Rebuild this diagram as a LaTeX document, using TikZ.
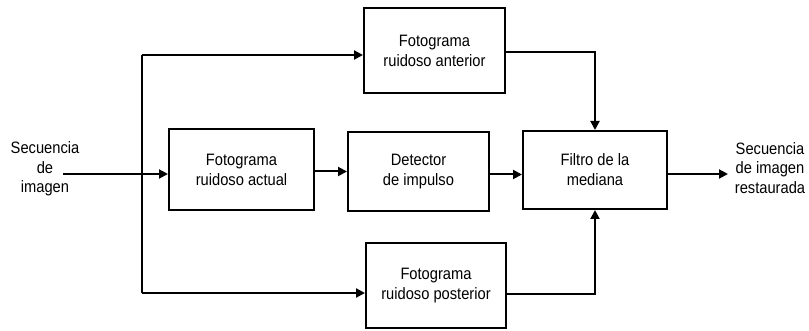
\documentclass[tikz,border=0pt]{standalone}
\usepackage{fontspec}
\setmainfont{Liberation Sans}[FakeStretch=0.89]
\usetikzlibrary{arrows.meta,calc}
\begin{document}
\begin{tikzpicture}[x=1pt,y=-1pt,
  blk/.style={draw,line width=2pt,minimum width=#1,inner sep=0pt,align=center,
    font=\fontsize{16.5}{20}\selectfont},
  lbl/.style={align=center,inner sep=0pt,font=\fontsize{16.5}{19.5}\selectfont},
  conn/.style={line width=2pt},
  arr/.style={conn,-{Triangle[length=9pt,width=9pt]}}]
\useasboundingbox (0,0) rectangle (809,331);
\node[lbl] (in) at (45,169) {Secuencia\\de\\imagen};
\node[lbl] (out) at (770,168) {Secuencia\\de imagen\\restaurada};
\node[blk=141pt,minimum height=85pt] (ant) at (434.5,50.5) {Fotograma\\ruidoso anterior};
\node[blk=145pt,minimum height=81pt] (act) at (241.5,169.5) {Fotograma\\ruidoso actual};
\node[blk=141pt,minimum height=79pt] (det) at (418.5,171.5) {Detector\\de impulso};
\node[blk=144pt,minimum height=78pt] (fil) at (595,170) {Filtro de la\\mediana};
\node[blk=140pt,minimum height=85pt] (pos) at (436,285.5) {Fotograma\\ruidoso posterior};
\coordinate (s) at (63,174);
\coordinate (bt) at (142,55);
\coordinate (bb) at (142,293);
\draw[arr] (s) -- (s -| act.west);
\draw[conn] (bt) -- (bb);
\draw[arr] (bt) -- (bt -| ant.west);
\draw[arr] (bb) -- (bb -| pos.west);
\draw[arr] ($(act.east)+(0,2)$) -- ($(act.east -| det.west)+(0,2)$);
\draw[arr] ($(det.east)+(0,3)$) -- ($(det.east -| fil.west)+(0,3)$);
\draw[arr] ($(ant.east)+(0,2)$) -| (fil.north);
\draw[arr] ($(pos.east)+(0,9)$) -| (fil.south);
\draw[arr] ($(fil.east)+(0,4)$) -- +(60,0);
\end{tikzpicture}
\end{document}
